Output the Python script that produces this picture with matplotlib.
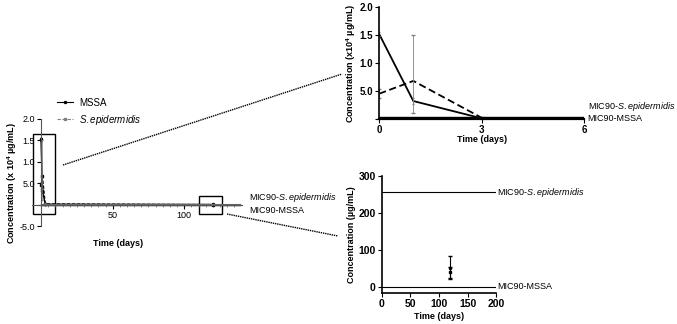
import numpy as np
import matplotlib
matplotlib.use("Agg")
import matplotlib.pyplot as plt
from matplotlib.lines import Line2D
from matplotlib.patches import Rectangle

plt.rcParams['font.family'] = ['Liberation Sans', 'DejaVu Sans']
plt.rcParams['mathtext.fontset'] = 'custom'
plt.rcParams['mathtext.rm'] = 'Liberation Sans'
plt.rcParams['mathtext.it'] = 'Liberation Sans:italic'
plt.rcParams['mathtext.bf'] = 'Liberation Sans:bold'

# data (concentration in x10^4 ug/mL unless noted)
days = [0, 1, 3, 120]
mssa = [1.52, 0.32, 0.01, 0.0052]
mssa_err = [0.03, 0.05, 0.005, 0.003]
sepi = [0.45, 0.68, 0.02, 0.004]
sepi_lo = [0.08, 0.58, 0.01, 0.0015]
sepi_hi = [0.08, 0.82, 0.01, 0.0015]

mic_sepi = 256   # ug/mL
mic_mssa = 1     # ug/mL

# late time point, ug/mL
late_day = [120]
late_mssa = [52]
late_mssa_err = [31]
late_sepi = [40]
late_sepi_err = [15]

fs = 6.5
sepi_lbl = r'MIC90-$\it{S.epidermidis}$'

fig = plt.figure(figsize=(6.77, 3.24), dpi=100)


def prism(ax, size):
    ax.spines['top'].set_visible(False)
    ax.spines['right'].set_visible(False)
    ax.tick_params(labelsize=size, width=0.8, length=3, pad=1.5)
    for lab in ax.get_xticklabels() + ax.get_yticklabels():
        lab.set_fontweight('bold')


# ---- left overview panel ----
ax1 = fig.add_axes([0.0479, 0.302, 0.309, 0.331])
ax1.plot(days, mssa, color='black', lw=1.0, marker='o', ms=1.5)
ax1.errorbar(days, mssa, yerr=mssa_err, fmt='none', ecolor='black', elinewidth=0.5, capsize=1)
ax1.plot(days, sepi, color='black', lw=0.8, ls=(0, (3, 1.5)), marker='s', ms=1.5)
ax1.errorbar(days, sepi, yerr=[sepi_lo, sepi_hi], fmt='none', ecolor='gray', elinewidth=0.5, capsize=1)
ax1.plot([0, 139], [mic_sepi / 1e4] * 2, color='gray', lw=0.8)
ax1.plot([0, 139], [mic_mssa / 1e4] * 2, color='black', lw=1.0)
ax1.set_xlim(-6, 140)
ax1.set_ylim(-0.5, 2.0)
ax1.set_xticks([50, 100])
ax1.set_yticks([-0.5, 0, 0.5, 1.0, 1.5, 2.0])
ax1.set_yticklabels(['-5.0', '', '5.0', '1.0', '1.5', '2.0'])
ax1.set_xticklabels(['50', '100'])
prism(ax1, fs)
ax1.spines['left'].set_position(('data', 0))
ax1.spines['left'].set_color('#555555')
ax1.spines['bottom'].set_position(('data', 0))
ax1.spines['bottom'].set_color('#555555')
ax1.set_xticks(np.arange(5, 140, 5), minor=True)
ax1.tick_params(axis='x', which='minor', length=1.5, width=0.5, color='#666666')
ax1.set_xlabel('Time (days)', fontsize=fs, fontweight='bold')
ax1.set_ylabel(r'Concentration (x 10$^{\mathbf{4}}$ µg/mL)', fontsize=fs, fontweight='bold')
ax1.yaxis.set_label_coords(-0.065, 0.4)
ax1.xaxis.set_label_coords(0.41, -0.12)
ax1.add_patch(Rectangle((-5.5, -0.21), 15.5, 1.86, fill=False, lw=1.0, ec='black', clip_on=False))
ax1.add_patch(Rectangle((110, -0.21), 16, 0.42, fill=False, lw=1.0, ec='black', clip_on=False))
ax1.text(145, 0.16, sepi_lbl, fontsize=fs, va='center', ha='left')
ax1.text(145, -0.14, 'MIC90-MSSA', fontsize=fs, va='center', ha='left')

handles = [Line2D([], [], color='black', lw=0.8, marker='o', ms=1.5),
           Line2D([], [], color='gray', lw=0.8, ls=(0, (3, 1.5)), marker='s', ms=1.5)]
fig.legend(handles, ['MSSA', r'$\it{S.epidermidis}$'], loc='upper left',
           bbox_to_anchor=(0.072, 0.725), frameon=False,
           handlelength=1.6, handletextpad=0.6, labelspacing=0.5,
           prop={'size': fs + 0.5})

# ---- top right zoom: first days ----
ax2 = fig.add_axes([0.560, 0.633, 0.303, 0.345])
ax2.plot(days[:3], mssa[:3], color='black', lw=1.3)
ax2.errorbar(days[:3], mssa[:3], yerr=mssa_err[:3], fmt='none', ecolor='gray', elinewidth=0.6, capsize=1)
ax2.plot(days[:3], sepi[:3], color='black', lw=1.3, ls=(0, (4, 2)))
ax2.errorbar(days[:3], sepi[:3], yerr=[sepi_lo[:3], sepi_hi[:3]], fmt='none', ecolor='gray',
             elinewidth=0.6, capsize=1.5)
ax2.plot([0, 6], [mic_sepi / 1e4] * 2, color='black', lw=1.0)
ax2.plot([0, 6], [mic_mssa / 1e4] * 2, color='black', lw=1.0)
ax2.set_xlim(0, 6)
ax2.set_ylim(0, 2.0)
ax2.set_xticks([0, 3, 6])
ax2.set_xticklabels(['0', '3', '6'])
ax2.set_yticks([0, 0.5, 1.0, 1.5, 2.0])
ax2.set_yticklabels(['', '5.0', '1.0', '1.5', '2.0'])
prism(ax2, 7)
ax2.spines['bottom'].set_linewidth(1.6)
ax2.spines['left'].set_linewidth(1.2)
ax2.set_xlabel('Time (days)', fontsize=fs, fontweight='bold')
ax2.set_ylabel(r'Concentration (x10$^{\mathbf{4}}$ µg/mL)', fontsize=fs, fontweight='bold')
ax2.yaxis.set_label_coords(-0.105, 0.5)
ax2.xaxis.set_label_coords(0.5, -0.145)
ax2.text(6.1, 0.23, sepi_lbl, fontsize=fs, va='center', ha='left')
ax2.text(6.1, 0.0, 'MIC90-MSSA', fontsize=fs, va='center', ha='left')

# ---- bottom right zoom: late time point (ug/mL) ----
ax3 = fig.add_axes([0.564, 0.0957, 0.169, 0.361])
ax3.errorbar(late_day, late_mssa, yerr=late_mssa_err, fmt='o', color='black', ms=1.5,
             elinewidth=0.8, capsize=1.5)
ax3.errorbar(late_day, late_sepi, yerr=late_sepi_err, fmt='s', color='black', ms=1.5,
             elinewidth=0.8, capsize=1.5)
ax3.plot([0, 200], [mic_sepi] * 2, color='black', lw=0.8)
ax3.plot([0, 200], [mic_mssa] * 2, color='black', lw=0.8)
ax3.set_xlim(0, 200)
ax3.set_ylim(-16, 300)
ax3.set_xticks([0, 50, 100, 150, 200])
ax3.set_xticklabels(['0', '50', '100', '150', '200'])
ax3.set_yticks([0, 100, 200, 300])
ax3.set_yticklabels(['0', '100', '200', '300'])
prism(ax3, 7.5)
ax3.spines['bottom'].set_linewidth(1.2)
ax3.spines['left'].set_linewidth(1.2)
ax3.set_xlabel('Time (days)', fontsize=fs, fontweight='bold')
ax3.set_ylabel('Concentration (µg/mL)', fontsize=fs, fontweight='bold')
ax3.yaxis.set_label_coords(-0.225, 0.5)
ax3.xaxis.set_label_coords(0.5, -0.16)
ax3.text(201, mic_sepi, sepi_lbl, fontsize=fs, va='center', ha='left')
ax3.text(201, mic_mssa, 'MIC90-MSSA', fontsize=fs, va='center', ha='left')

# dotted zoom connectors (figure pixel estimates)
W, H = 677.0, 324.0
for (x0, y0, x1, y1) in [(63, 165, 342, 74), (227, 214, 338, 236)]:
    fig.add_artist(Line2D([x0 / W, x1 / W], [1 - y0 / H, 1 - y1 / H], color='black',
                          lw=1.0, ls=(0, (1, 0.6))))

fig.savefig('out.png', dpi=100)
